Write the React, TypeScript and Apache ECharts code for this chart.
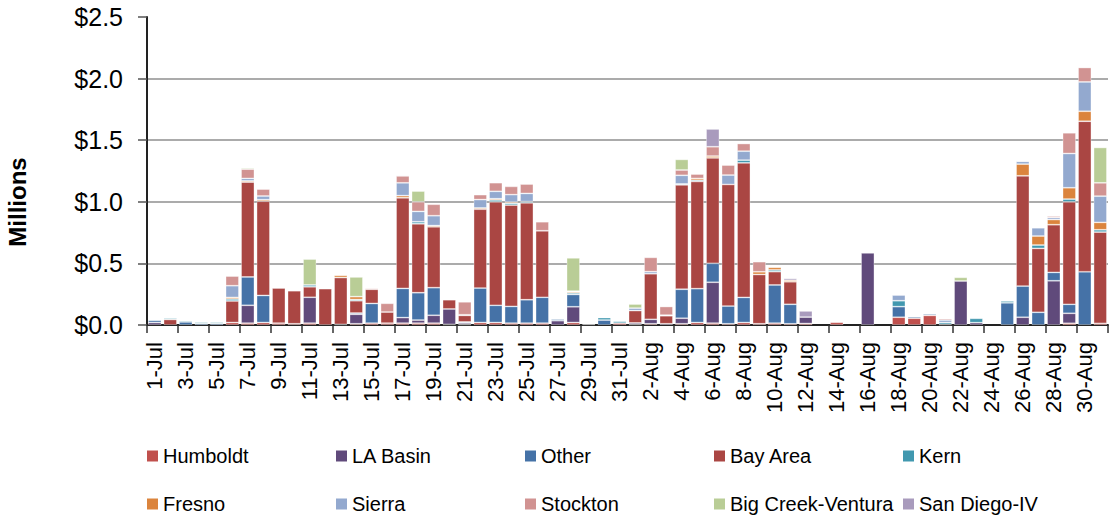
import React, { useEffect, useRef } from "react";
import * as echarts from "echarts";

const MONTHS: [string, number][] = [["Jul", 31], ["Aug", 31]];
const categories: string[] = [];
MONTHS.forEach(([m, n]) => {
  for (let d = 1; d <= n; d++) categories.push(`${d}-${m}`);
});

const seriesNames = [
  "Humboldt", "LA Basin", "Other", "Bay Area", "Kern",
  "Fresno", "Sierra", "Stockton", "Big Creek-Ventura", "San Diego-IV",
];
const seriesColors = [
  "#C0504D", "#604A7B", "#4572A7", "#AA4643", "#4198AF",
  "#DB843D", "#93A9CF", "#D19392", "#B9CD96", "#A99BBD",
];

const humboldt = [0,0,0,0,0,0.02,0.015,0.02,0.015,0.01,
 0.015,0,0.005,0.01,0.015,0.015,0.015,0.015,0.015,0.005,
 0.005,0.02,0.02,0.015,0.015,0.015,0,0.02,0,0,
 0.015,0.005,0.01,0,0.01,0.02,0.015,0.01,0.02,0.01,
 0.015,0.01,0.012,0,0.022,0,0,0,0.063,0.055,
 0.078,0.005,0,0,0,0,0,0,0,0.014,
 0,0.014];
const laBasin = [0.02,0,0,0,0,0,0.145,0,0,0,
 0.21,0,0,0.077,0,0,0.045,0.025,0.064,0.125,
 0.012,0,0,0,0,0,0.035,0.128,0.006,0,
 0,0.012,0.036,0.01,0.045,0,0.332,0,0,0,
 0,0,0.052,0,0,0,0.585,0,0,0,
 0,0,0.357,0.019,0,0,0.063,0,0.359,0.081,
 0,0];
const other = [0.018,0,0.025,0.012,0.012,0,0.23,0.22,0,0,
 0,0,0,0.01,0.16,0,0.237,0.222,0.224,0,
 0.008,0.28,0.14,0.136,0.19,0.21,0.012,0.1,0,0.04,
 0,0,0,0,0.235,0.275,0.154,0.144,0.204,0,
 0.31,0.158,0,0,0,0,0,0,0.086,0.012,
 0.011,0,0,0,0,0.18,0.253,0.103,0.068,0.073,
 0.432,0];
const bayArea = [0,0.045,0,0,0,0.175,0.77,0.765,0.285,0.268,
 0.085,0.295,0.38,0.1,0.115,0.09,0.736,0.56,0.494,0.075,
 0.053,0.64,0.84,0.822,0.787,0.54,0,0,0,0,
 0,0.1,0.37,0.065,0.847,0.87,0.855,0.987,1.092,0.4,
 0.108,0.183,0,0,0,0,0,0,0,0,
 0,0,0,0,0,0,0.895,0.519,0.387,0.832,
 1.222,0.74];
const kern = [0,0.01,0.01,0.01,0.01,0.016,0,0,0,0,
 0.015,0,0,0.01,0,0,0,0.016,0,0,
 0,0,0.015,0.015,0.01,0,0,0.012,0,0.02,
 0.015,0,0,0.005,0.008,0.01,0,0,0.022,0,
 0.014,0,0,0,0,0,0,0,0.048,0,
 0,0.015,0,0.035,0,0.015,0,0.027,0,0.022,
 0,0.019];
const fresno = [0,0,0,0,0,0.013,0.01,0.012,0,0,
 0,0,0.018,0.023,0,0,0.017,0,0.01,0,
 0.005,0.01,0.01,0.01,0,0,0,0.01,0,0,
 0,0,0,0,0,0.015,0.015,0,0,0.022,
 0.021,0.012,0,0,0,0,0,0,0,0,
 0,0,0,0,0,0,0.095,0.073,0.042,0.092,
 0.081,0.06];
const sierra = [0,0,0,0,0,0.095,0.02,0.03,0,0,
 0,0,0,0,0,0,0.104,0.084,0.08,0,
 0,0.068,0.06,0.06,0.066,0,0,0.005,0,0,
 0,0.02,0.017,0,0.07,0,0,0.076,0.073,0,
 0,0,0,0,0,0,0,0,0.046,0.006,
 0,0.02,0,0,0,0,0.022,0.067,0.016,0.278,
 0.238,0.213];
const stockton = [0,0,0,0,0,0.078,0.075,0.056,0,0,
 0,0,0,0,0.008,0.071,0.056,0.078,0.093,0,
 0.105,0.04,0.07,0.067,0.076,0.073,0,0,0,0,
 0,0,0.116,0.07,0.043,0.035,0.076,0.081,0.062,0.082,
 0,0,0,0,0,0,0,0,0,0,
 0,0.012,0,0,0,0,0.005,0,0.012,0.168,
 0.117,0.108];
const bigCreek = [0,0,0,0,0,0,0.01,0,0,0,
 0.21,0,0,0.16,0,0,0,0.087,0,0,
 0,0,0,0,0,0,0,0.27,0,0,
 0,0.033,0,0,0.086,0,0,0,0,0,
 0,0,0,0,0,0,0,0,0,0,
 0,0,0.03,0,0,0,0,0,0,0,
 0,0.287];
const sanDiego = [0,0,0,0,0,0,0,0,0,0,
 0,0,0,0,0,0,0.007,0,0,0,
 0,0,0,0,0,0,0,0,0.005,0,
 0,0,0,0,0,0,0.144,0,0,0,
 0,0.015,0.05,0,0,0,0,0,0,0,
 0,0,0,0,0,0,0,0,0,0,
 0,0];

const seriesData = [humboldt, laBasin, other, bayArea, kern, fresno, sierra, stockton, bigCreek, sanDiego];

const FONT = "'Liberation Sans', Arial, sans-serif";

export default function App() {
  const ref = useRef<HTMLDivElement>(null);
  useEffect(() => {
    if (!ref.current) return;
    const chart = echarts.init(ref.current, null, { renderer: "svg" });
    const legendCols = [147, 336, 525, 714, 903];
    const legendRows = [446, 494];
    const legends = seriesNames.map((name, i) => ({
      data: [name],
      left: legendCols[i % 5],
      top: legendRows[Math.floor(i / 5)],
      padding: 0,
      icon: "rect",
      itemWidth: 11,
      itemHeight: 11,
      itemGap: 0,
      itemStyle: { borderWidth: 0 },
      textStyle: { fontFamily: FONT, fontSize: 20, color: "#000", padding: [0, 0, 0, 0] },
      selectedMode: false,
    }));
    chart.setOption({
      animation: false,
      color: seriesColors,
      textStyle: { fontFamily: FONT },
      grid: { left: 147, right: 6, top: 17, bottom: 192, containLabel: false },
      legend: legends,
      graphic: [
        {
          type: "text",
          x: 17,
          y: 202,
          rotation: Math.PI / 2,
          style: {
            text: "Millions",
            font: `bold 24px ${FONT}`,
            fill: "#000",
            align: "center",
            verticalAlign: "middle",
          },
        },
      ],
      xAxis: {
        type: "category",
        data: categories,
        axisLine: { show: true, lineStyle: { color: "#222", width: 2 } },
        axisTick: { show: true, interval: 1, length: 8, lineStyle: { color: "#333", width: 1.5 } },
        axisLabel: {
          interval: 1,
          rotate: 90,
          margin: 17,
          fontSize: 22,
          color: "#000",
          fontFamily: FONT,
        },
        splitLine: { show: false },
      },
      yAxis: {
        type: "value",
        min: 0,
        max: 2.5,
        interval: 0.5,
        axisLine: { show: true, lineStyle: { color: "#222", width: 2 } },
        axisTick: { show: true, length: 9, lineStyle: { color: "#555", width: 1.5 } },
        axisLabel: {
          margin: 24,
          fontSize: 25,
          color: "#000",
          fontFamily: FONT,
          formatter: (v: number) => "$" + v.toFixed(1),
        },
        splitLine: { show: true, showMaxLine: false, lineStyle: { color: "#ababab", width: 2 } },
      },
      series: seriesNames.map((name, i) => ({
        name,
        type: "bar",
        stack: "total",
        barCategoryGap: "14%",
        itemStyle: { color: seriesColors[i], borderColor: "rgba(255,255,255,0.45)", borderWidth: 0.8 },
        data: seriesData[i].map((v) => (v === 0 ? null : v)),
      })),
    });
    return () => chart.dispose();
  }, []);
  return (
    <div
      ref={ref}
      style={{ position: "fixed", left: 0, top: 0, width: 1114, height: 517, background: "#fff" }}
    />
  );
}
